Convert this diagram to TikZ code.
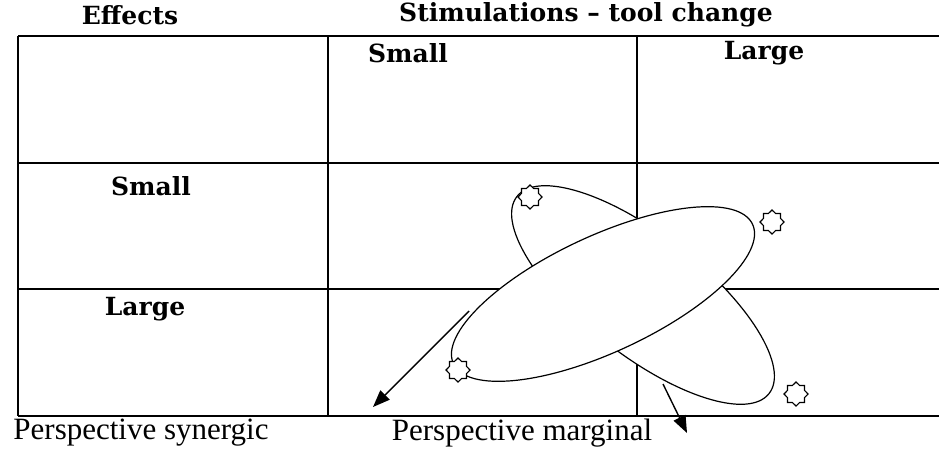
\documentclass[tikz,border=0pt]{standalone}
\usepackage{fontspec}
\setmainfont{Liberation Serif}
\newfontfamily\hdfont{DejaVu Serif}
\usetikzlibrary{shapes.geometric,arrows.meta}
\tikzset{
  tbl/.style={line width=1.8pt},
  hd/.style={font=\hdfont\bfseries\fontsize{25}{28}\selectfont, inner sep=0pt},
  lbl/.style={font=\fontsize{31}{34}\selectfont, inner sep=0pt},
  oval/.style={draw, fill=white, ellipse, line width=1.2pt, inner sep=0pt},
  starmark/.style={draw, fill=white, star, star points=8, star point ratio=1.3, minimum size=24pt, inner sep=0pt, line width=1.1pt},
  arr/.style={line width=1.4pt, -{Triangle[length=17pt,width=13pt]}}
}
\begin{document}
\begin{tikzpicture}[x=1pt,y=-1pt]
\useasboundingbox (0,0) rectangle (939,450);
\fill[white] (0,0) rectangle (939,450);
% table
\draw[tbl] (18,36) -- (950,36);
\draw[tbl] (18,163) -- (950,163);
\draw[tbl] (18,289) -- (950,289);
\draw[tbl] (18,416) -- (950,416);
\draw[tbl] (18,36) -- (18,416);
\draw[tbl] (328,36) -- (328,416);
\draw[tbl] (637,36) -- (637,416);
% headings
\node[hd] (eff) at (130,15) {Effects};
\node[hd] (stim) at (586,15) {Stimulations – tool change};
\node[hd] (csmall) at (408,53) {Small};
\node[hd] (clarge) at (764,53) {Large};
\node[hd] (rsmall) at (151,186) {Small};
\node[hd] (rlarge) at (145,309) {Large};
% ellipses
\node[oval, rotate=-38, minimum width=320pt, minimum height=120pt] (e2) at (643,295) {};
\node[oval, rotate=25, minimum width=330pt, minimum height=116pt] (e1) at (603,294) {};
% stars
\node[starmark] (s1) at (530,197) {};
\node[starmark] (s2) at (458,370) {};
\node[starmark] (s3) at (772,222) {};
\node[starmark] (s4) at (796,394) {};
% arrows
\coordinate (a1s) at (469,311);
\coordinate (a1e) at (373,407);
\coordinate (a2s) at (663,384);
\coordinate (a2e) at (687,433);
\draw[arr] (a1s) -- (a1e);
\draw[arr] (a2s) -- (a2e);
% bottom labels
\node[lbl] (psyn) at (141,433) {Perspective synergic};
\node[lbl] (pmar) at (522,433) {Perspective marginal};
\end{tikzpicture}
\end{document}
